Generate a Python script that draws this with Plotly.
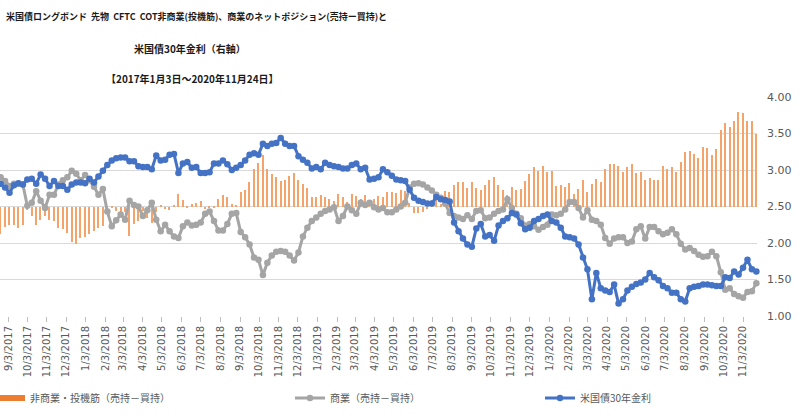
import pandas as pd
import plotly.graph_objects as go

# ---------------- data ----------------
start_date = "2017-08-22"          # weekly (Tuesday) CFTC COT dates
n_weeks = 171
dates = pd.date_range(start_date, periods=n_weeks, freq="7D")

# 非商業・投機筋 net position (売持－買持), thousand contracts
noncommercial = [
    -37, -28, -25, -25, -30, -26, -5, -13, -25, -18,
    -13, -18, -20, -30, -31, -36, -49, -51, -43, -42,
    -37, -33, -30, -27, -3, -2, -6, -8, -7, -41,
    -24, -20, -6, -16, -23, -8, 2, -3, -5, 2,
    17, 9, -2, 4, 5, 8, -3, -1, -1, 10,
    16, 13, 4, 2, 20, 23, 34, 52, 60, 70,
    52, 44, 40, 35, 36, 42, 46, 36, 31, 25,
    13, 13, 16, 13, 10, 8, 17, 13, 6, 17,
    15, 10, 16, 8, 10, 14, 13, 20, 20, 18,
    23, 21, 5, -9, -9, -7, -3, 9, 14, 3,
    21, 20, 29, 34, 33, 26, 34, 26, 23, 30,
    36, 40, 30, 23, 16, 27, 23, 24, 35, 45,
    54, 49, 55, 47, 49, 28, 30, 27, 32, 17,
    24, 36, 20, 31, 38, 34, 52, 58, 58, 55,
    47, 54, 58, 46, 47, 36, 39, 36, 36, 55,
    52, 54, 47, 61, 74, 76, 72, 67, 82, 80,
    71, 79, 105, 115, 109, 117, 130, 128, 117, 117,
    100,
]

# 商業 net position (売持－買持), thousand contracts
commercial = [
    40, 35, 28, 31, 31, 30, 1, 5, 21, 8,
    -2, 16, 16, 30, 36, 40, 49, 45, 36, 43,
    36, 27, 16, 24, -7, -27, -19, -11, -18, 8,
    2, 0, -13, -5, 5, -18, -34, -25, -34, -41,
    -43, -27, -22, -26, -25, -22, -10, -7, -20, -33,
    -33, -24, -10, -9, -35, -42, -52, -70, -73, -94,
    -77, -67, -62, -61, -62, -67, -74, -63, -41, -29,
    -20, -15, -10, -6, -4, -1, -20, -13, 0, -5,
    -10, 5, 2, 5, -1, -4, -2, -8, -8, -4,
    0, 5, 26, 31, 32, 30, 26, 22, 16, 12,
    4, -9, -13, -15, -17, -12, -17, -6, -5, -16,
    -15, -10, -6, -4, 10, -2, -10, -16, -26, -24,
    -27, -32, -28, -25, -11, -12, -10, -4, 6, 6,
    -2, -15, -5, -18, -20, -25, -43, -51, -44, -42,
    -42, -50, -48, -31, -27, -44, -28, -28, -34, -38,
    -36, -31, -38, -51, -59, -57, -61, -66, -69, -68,
    -62, -68, -90, -114, -112, -120, -123, -125, -117, -116,
    -105,
]

# 米国債30年金利 (%)
yield30 = [
    2.81, 2.76, 2.69, 2.79, 2.82, 2.80, 2.87, 2.88, 2.81, 2.94,
    2.88, 2.78, 2.85, 2.78, 2.78, 2.73, 2.80, 2.83, 2.83, 2.82,
    2.88, 2.83, 2.91, 2.99, 3.07, 3.13, 3.16, 3.17, 3.17, 3.12,
    3.12, 3.05, 3.04, 3.04, 3.01, 3.20, 3.13, 3.14, 3.21, 3.22,
    2.96, 3.09, 3.11, 3.03, 3.04, 2.96, 2.96, 2.97, 3.09, 3.09,
    3.13, 3.08, 3.00, 3.03, 3.07, 3.13, 3.21, 3.23, 3.21, 3.36,
    3.33, 3.36, 3.37, 3.44, 3.36, 3.33, 3.33, 3.19, 3.14, 3.10,
    3.02, 3.04, 3.01, 3.10, 3.07, 3.05, 3.04, 3.02, 3.02, 3.07,
    3.09, 3.01, 3.03, 2.87, 2.88, 2.90, 3.01, 2.97, 2.92, 2.87,
    2.86, 2.85, 2.73, 2.62, 2.58, 2.56, 2.54, 2.54, 2.63, 2.60,
    2.59, 2.57, 2.28, 2.16, 2.06, 1.98, 1.95, 2.20, 2.26, 2.09,
    2.11, 2.03, 2.24, 2.30, 2.34, 2.41, 2.39, 2.27, 2.19, 2.21,
    2.30, 2.33, 2.37, 2.39, 2.30, 2.28, 2.21, 2.09, 2.08, 2.06,
    1.98, 1.80, 1.64, 1.23, 1.59, 1.38, 1.35, 1.33, 1.43, 1.17,
    1.23, 1.35, 1.40, 1.44, 1.46, 1.50, 1.59, 1.53, 1.49, 1.41,
    1.38, 1.32, 1.32, 1.23, 1.20, 1.38, 1.40, 1.41, 1.43, 1.43,
    1.42, 1.41, 1.41, 1.53, 1.52, 1.61, 1.57, 1.66, 1.77, 1.64,
    1.61,
]

tick_dates = pd.date_range("2017-09-01", "2020-11-01", freq="MS") + pd.Timedelta(days=2)
tick_labels = [f"{d.month}/{d.day}/{d.year}" for d in tick_dates]

right_ticks = [1.0, 1.5, 2.0, 2.5, 3.0, 3.5, 4.0]
right_labels = [f"{v:.2f}" for v in right_ticks]

name_nc = "非商業・投機筋（売持－買持）"
name_c = "商業（売持－買持）"
name_y = "米国債30年金利"

title_lines = [
    "米国債ロングボンド  先物  CFTC  COT非商業(投機筋)、商業のネットポジション(売持ー買持)と",
    "米国債30年金利（右軸）",
    "【2017年1月3日～2020年11月24日】",
]

# ---------------- figure ----------------
ORANGE = "#F4A46A"
GREY = "#A5A5A5"
BLUE = "#4472C4"
TXT = "#595959"
GRID = "#D9D9D9"
CJK = "Noto Sans CJK JP"

fig = go.Figure()

fig.add_trace(go.Bar(
    x=dates, y=noncommercial, name=name_nc, showlegend=False,
    marker=dict(color=ORANGE, line=dict(width=0)),
    width=2.1 * 86400000, yaxis="y",
))
# legend proxy for the bar series (Excel-style wide swatch)
fig.add_trace(go.Scatter(
    x=[None], y=[None], mode="lines", name=name_nc,
    line=dict(color="#ED7D31", width=6), legend="legend",
))
fig.add_trace(go.Scatter(
    x=dates, y=commercial, name=name_c, mode="lines+markers",
    line=dict(color=GREY, width=3), marker=dict(color=GREY, size=6.5),
    yaxis="y", legend="legend2", cliponaxis=False,
))
fig.add_trace(go.Scatter(
    x=dates, y=yield30, name=name_y, mode="lines+markers",
    line=dict(color=BLUE, width=3), marker=dict(color=BLUE, size=6.5),
    yaxis="y2", legend="legend3", cliponaxis=False,
))

PLOT_W = 757.0
PLOT_H = 219.0
PLOT_TOP = 97.0


def px_x(p):
    return p / PLOT_W


def px_y(p):
    return (PLOT_TOP + PLOT_H - p) / PLOT_H


title_font_sizes = [9, 10, 10]
annotations = [
    dict(text=title_lines[0], x=px_x(4), xanchor="left", y=px_y(16)),
    dict(text=title_lines[1], x=px_x(190), xanchor="center", y=px_y(48)),
    dict(text=title_lines[2], x=px_x(192), xanchor="center", y=px_y(79)),
]
for a, fs in zip(annotations, title_font_sizes):
    a.update(xref="paper", yref="paper", yanchor="middle", showarrow=False,
             font=dict(family=CJK, size=fs, color="#1a1a1a", weight="bold"))

legend_common = dict(orientation="h", yanchor="middle", xanchor="left",
                     y=px_y(398), bgcolor="rgba(0,0,0,0)", itemwidth=30,
                     font=dict(family=CJK, size=10, color=TXT))

fig.update_layout(
    width=800, height=418, autosize=False,
    margin=dict(l=0, r=43, t=97, b=102, autoexpand=False),
    paper_bgcolor="white", plot_bgcolor="white",
    showlegend=True,
    bargap=0,
    annotations=annotations,
    legend=dict(legend_common, x=px_x(-10)),
    legend2=dict(legend_common, x=px_x(290)),
    legend3=dict(legend_common, x=px_x(540)),
    xaxis=dict(
        type="date", range=["2017-08-21", "2020-11-25"],
        tickmode="array", tickvals=list(tick_dates), ticktext=tick_labels,
        tickangle=-90, ticks="outside", ticklen=5, tickcolor="#BFBFBF",
        tickfont=dict(family="DejaVu Sans", size=10, color=TXT),
        showgrid=False, showline=False, zeroline=False, automargin=False,
    ),
    yaxis=dict(
        range=[-150, 150], showticklabels=False, showgrid=False,
        zeroline=False, showline=False, automargin=False, fixedrange=True,
    ),
    yaxis2=dict(
        overlaying="y", side="right", range=[1, 4],
        tickmode="array", tickvals=right_ticks, ticktext=right_labels,
        showgrid=True, gridcolor=GRID, gridwidth=1,
        zeroline=False, showline=False, ticks="", ticklabelstandoff=9,
        tickfont=dict(family="DejaVu Sans", size=11, color=TXT),
        automargin=False,
    ),
)

fig.write_html(
    "out.html",
    config={"displayModeBar": False},
    post_script="document.body.style.margin='0';document.body.style.overflow='hidden';",
)
